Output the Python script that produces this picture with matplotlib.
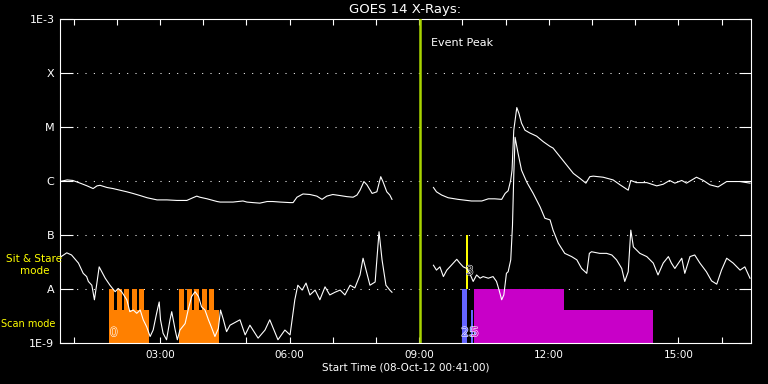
import numpy as np
import matplotlib
matplotlib.use('Agg')
import matplotlib.pyplot as plt
import matplotlib.transforms as mtransforms
import matplotlib.patheffects as pe
from matplotlib.ticker import FixedLocator, NullLocator

# time in hours on 08-Oct-12, flux as log10(W/m^2)
long1_t = [0.68, 0.85, 0.98, 1.15, 1.31, 1.45, 1.54, 1.61, 1.77, 1.91,
           2.07, 2.23, 2.37, 2.54, 2.70, 2.93, 3.16, 3.39, 3.62, 3.76,
           3.85, 3.92, 4.09, 4.32, 4.39, 4.69, 4.92, 5.01, 5.15, 5.31,
           5.48, 5.61, 5.78, 6.01, 6.08, 6.17, 6.31, 6.47, 6.63, 6.75,
           6.86, 7.00, 7.17, 7.33, 7.47, 7.56, 7.63, 7.72, 7.79, 7.91,
           8.02, 8.11, 8.16, 8.25, 8.32, 8.37]
long1_f = [-6.01, -5.98, -5.99, -6.04, -6.09, -6.14, -6.09, -6.08, -6.12, -6.14,
           -6.17, -6.20, -6.23, -6.27, -6.31, -6.35, -6.35, -6.36, -6.36, -6.31,
           -6.28, -6.30, -6.33, -6.38, -6.39, -6.39, -6.37, -6.39, -6.40, -6.41,
           -6.38, -6.38, -6.39, -6.40, -6.40, -6.30, -6.24, -6.25, -6.28, -6.34,
           -6.28, -6.25, -6.27, -6.29, -6.30, -6.26, -6.17, -6.01, -6.07, -6.23,
           -6.20, -5.92, -6.01, -6.20, -6.26, -6.34]

long2_t = [9.33, 9.40, 9.52, 9.67, 9.90, 10.21, 10.45, 10.60, 10.75, 10.91,
           10.99, 11.06, 11.12, 11.15, 11.19, 11.26, 11.31, 11.37, 11.45, 11.56,
           11.72, 11.87, 12.03, 12.10, 12.26, 12.41, 12.57, 12.72, 12.86, 12.95,
           13.03, 13.26, 13.49, 13.65, 13.84, 13.90, 14.03, 14.27, 14.50, 14.65,
           14.80, 14.92, 15.08, 15.19, 15.42, 15.58, 15.73, 15.92, 16.12, 16.43,
           16.66]
long2_f = [-6.12, -6.20, -6.26, -6.31, -6.34, -6.37, -6.37, -6.33, -6.33, -6.34,
           -6.23, -6.18, -5.98, -5.80, -5.06, -4.64, -4.75, -4.93, -5.06, -5.11,
           -5.17, -5.27, -5.36, -5.39, -5.55, -5.70, -5.86, -5.95, -6.04, -5.92,
           -5.91, -5.93, -5.98, -6.07, -6.17, -5.99, -6.03, -6.03, -6.09, -6.06,
           -5.99, -6.04, -5.99, -6.04, -5.93, -5.99, -6.07, -6.11, -6.01, -6.01,
           -6.04]

short1_t = [0.71, 0.84, 0.95, 1.11, 1.22, 1.30, 1.34, 1.42, 1.48, 1.53,
            1.59, 1.73, 1.84, 1.96, 2.03, 2.11, 2.23, 2.30, 2.38, 2.46,
            2.54, 2.61, 2.69, 2.77, 2.84, 2.92, 2.98, 3.01, 3.07, 3.15,
            3.23, 3.27, 3.35, 3.40, 3.46, 3.58, 3.65, 3.73, 3.81, 3.89,
            3.96, 4.04, 4.12, 4.20, 4.27, 4.35, 4.40, 4.46, 4.54, 4.62,
            4.85, 4.97, 5.08, 5.27, 5.43, 5.54, 5.73, 5.89, 6.01, 6.12,
            6.19, 6.29, 6.38, 6.47, 6.59, 6.70, 6.82, 6.93, 7.05, 7.17,
            7.28, 7.40, 7.51, 7.63, 7.70, 7.77, 7.86, 7.98, 8.07, 8.14,
            8.23, 8.32, 8.37]
short1_f = [-7.40, -7.33, -7.37, -7.52, -7.71, -7.77, -7.86, -7.93, -8.20, -7.93,
            -7.59, -7.80, -7.93, -8.05, -7.99, -8.05, -8.20, -8.42, -8.39, -8.45,
            -8.39, -8.57, -8.70, -8.88, -8.76, -8.45, -8.24, -8.57, -8.82, -8.94,
            -8.57, -8.42, -8.76, -8.94, -8.76, -8.64, -8.39, -8.14, -8.05, -8.14,
            -8.33, -8.39, -8.57, -8.73, -8.88, -8.73, -8.39, -8.55, -8.79, -8.67,
            -8.57, -8.85, -8.67, -8.91, -8.76, -8.57, -8.94, -8.76, -8.85, -8.20,
            -7.93, -8.02, -7.89, -8.11, -8.02, -8.20, -7.96, -8.11, -8.06, -8.02,
            -8.11, -7.93, -7.98, -7.74, -7.43, -7.65, -7.93, -7.87, -6.94, -7.46,
            -7.93, -8.02, -8.06]

short2_t = [9.33, 9.40, 9.48, 9.56, 9.64, 9.71, 9.79, 9.87, 9.94, 10.02,
            10.10, 10.17, 10.25, 10.33, 10.41, 10.48, 10.60, 10.71, 10.79, 10.85,
            10.91, 10.96, 11.02, 11.06, 11.12, 11.16, 11.19, 11.22, 11.29, 11.37,
            11.49, 11.64, 11.80, 11.91, 12.03, 12.10, 12.22, 12.37, 12.53, 12.65,
            12.76, 12.88, 12.94, 12.99, 13.18, 13.34, 13.46, 13.57, 13.69, 13.76,
            13.84, 13.90, 13.96, 14.11, 14.27, 14.42, 14.53, 14.65, 14.77, 14.84,
            14.92, 15.08, 15.15, 15.27, 15.38, 15.50, 15.65, 15.77, 15.89, 16.00,
            16.12, 16.27, 16.43, 16.54, 16.66]
short2_f = [-7.56, -7.65, -7.59, -7.77, -7.65, -7.59, -7.52, -7.45, -7.52, -7.59,
            -7.62, -7.71, -7.86, -7.74, -7.80, -7.77, -7.80, -7.77, -7.86, -8.02,
            -8.20, -8.11, -7.71, -7.68, -7.46, -6.83, -5.89, -5.19, -5.49, -5.80,
            -6.02, -6.23, -6.48, -6.69, -6.72, -6.91, -7.15, -7.34, -7.40, -7.46,
            -7.62, -7.71, -7.34, -7.31, -7.34, -7.34, -7.37, -7.46, -7.62, -7.86,
            -7.68, -6.91, -7.22, -7.34, -7.40, -7.52, -7.74, -7.52, -7.40, -7.52,
            -7.62, -7.43, -7.71, -7.40, -7.37, -7.52, -7.68, -7.85, -7.91, -7.65,
            -7.43, -7.52, -7.65, -7.59, -7.80]

# observation bars (hours) in the scan-mode band, top value of each bar
orange_start = [1.82, 1.82, 2.00, 2.17, 2.34, 2.52, 3.44, 3.44, 3.62, 3.79, 3.96, 4.14]
orange_end = [2.74, 1.93, 2.11, 2.28, 2.46, 2.63, 4.36, 3.55, 3.73, 3.90, 4.08, 4.25]
orange_top = [4.1e-9, 1e-8, 1e-8, 1e-8, 1e-8, 1e-8, 4.1e-9, 1e-8, 1e-8, 1e-8, 1e-8, 1e-8]
blue_start = [10.00, 10.19]
blue_end = [10.11, 10.25]
blue_top = [1e-8, 4.1e-9]
magenta_start = [10.27, 12.35]
magenta_end = [12.35, 14.41]
magenta_top = [1e-8, 4.1e-9]
stare_start = [10.08]
stare_end = [10.14]

event_peak = 9.02

levels = [1e-9, 1e-8, 1e-7, 1e-6, 1e-5, 1e-4, 1e-3]
level_labels = ['1E-9', 'A', 'B', 'C', 'M', 'X', '1E-3']
hour_ticks = [3, 6, 9, 12, 15]
hour_labels = ['03:00', '06:00', '09:00', '12:00', '15:00']

fig = plt.figure(figsize=(7.68, 3.84), dpi=100, facecolor='black')
ax = fig.add_axes([60/768, 41/384, 691/768, 324/384])
ax.set_facecolor('black')
ax.set_yscale('log')
ax.set_ylim(1e-9, 1e-3)
ax.set_xlim(0.683, 16.683)

def bars(start, end, top, color):
    s = np.array(start)
    w = np.array(end) - s
    h = np.array(top) - 1e-9
    ax.bar(s, h, width=w, bottom=1e-9, align='edge', color=color, linewidth=0, zorder=2)

bars(orange_start, orange_end, orange_top, '#ff8000')
bars(blue_start, blue_end, blue_top, '#6464ff')
bars(magenta_start, magenta_end, magenta_top, '#c800c8')
ax.bar(stare_start, 1e-7 - 1e-8, width=np.array(stare_end) - np.array(stare_start),
       bottom=1e-8, align='edge', color='#ffff00', linewidth=0, zorder=2)

for lv in levels[1:-1]:
    ax.axhline(lv, color='white', lw=0.75, ls=(0, (1, 7)), zorder=1)

ax.axvline(event_peak, color='#a8d400', lw=1.8, zorder=3)

for t, f in [(long1_t, long1_f), (long2_t, long2_f), (short1_t, short1_f), (short2_t, short2_f)]:
    ax.plot(t, 10**np.array(f), color='white', lw=0.8, zorder=4)

ax.text(9.27, 10**-3.44, 'Event Peak', color='white', fontsize=8, va='center')

outline = [pe.withStroke(linewidth=0.8, foreground='white')]
ax.text(1.93, 10**-8.81, '0', color='#ff8000', fontsize=9, ha='center', va='center',
        path_effects=outline, zorder=5)
ax.text(10.17, 10**-7.67, '3', color='black', fontsize=9, ha='center', va='center',
        path_effects=outline, zorder=5)
ax.text(9.97, 10**-8.81, '25', color='#6464ff', fontsize=9, ha='left', va='center',
        path_effects=outline, zorder=5)
ax.text(10.20, 10**-8.81, '5', color='#c800c8', fontsize=9, ha='left', va='center',
        path_effects=outline, zorder=5)

trans = mtransforms.blended_transform_factory(ax.transAxes, ax.transData)
ax.text(-0.037, 10**-7.56, 'Sit & Stare\nmode', color='#ffff00', fontsize=7.5,
        ha='center', va='center', multialignment='center', transform=trans)
ax.text(-0.046, 10**-8.65, 'Scan mode', color='#ffff00', fontsize=7,
        ha='center', va='center', transform=trans)

ax.set_yticks(levels)
ax.set_yticklabels(level_labels)
ax.yaxis.set_minor_locator(NullLocator())
ax.tick_params(axis='y', which='major', direction='in', length=9, width=0.8,
               colors='white', left=True, right=True, labelsize=8, pad=4)
ax.set_xticks(hour_ticks)
ax.set_xticklabels(hour_labels)
ax.xaxis.set_minor_locator(FixedLocator(range(1, 17)))
ax.tick_params(axis='x', which='both', direction='in', length=4, width=0.8,
               colors='white', top=True, bottom=True, labelsize=7.5, pad=5)
for s in ax.spines.values():
    s.set_color('white')
    s.set_linewidth(0.8)

ax.set_title('GOES 14 X-Rays:', color='white', fontsize=9.5, pad=4)
ax.set_xlabel('Start Time (08-Oct-12 00:41:00)', color='white', fontsize=7.5, labelpad=2)

fig.savefig('out.png', dpi=100, facecolor='black')
